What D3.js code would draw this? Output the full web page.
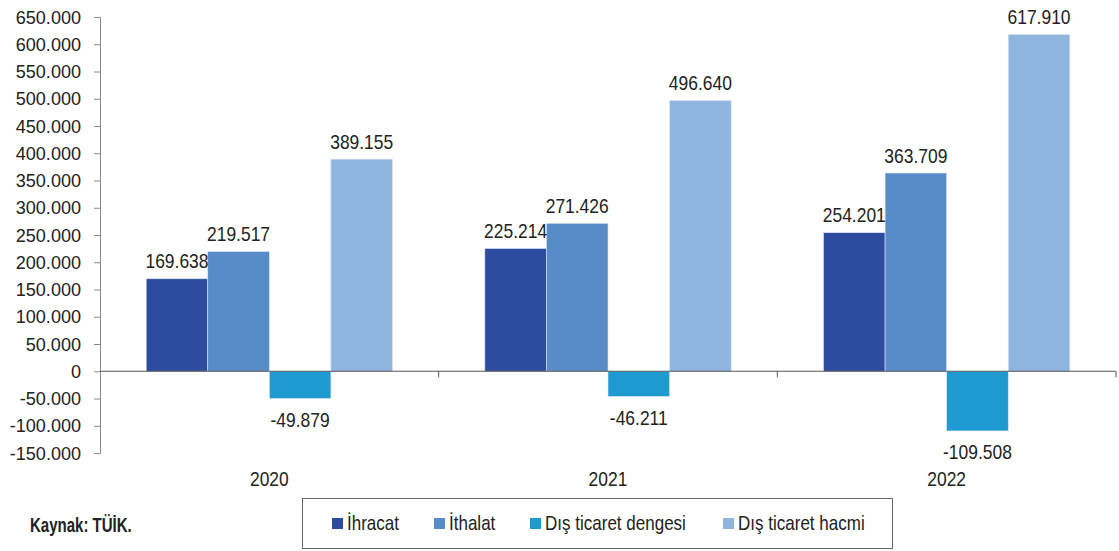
<!DOCTYPE html>
<html><head><meta charset="utf-8">
<script src="https://cdn.jsdelivr.net/npm/d3@7/dist/d3.min.js"></script>
<style>
body{margin:0;background:#fff;}
svg text{font-family:"Liberation Sans",Arial,sans-serif;}
</style></head>
<body><svg id="c" width="1119" height="551"></svg>
<script>
const years = ["2020","2021","2022"];
const seriesNames = ["İhracat","İthalat","Dış ticaret dengesi","Dış ticaret hacmi"];
const ihracat = [169.638,225.214,254.201];
const ithalat = [219.517,271.426,363.709];
const denge = [-49.879,-46.211,-109.508];
const hacim = [389.155,496.640,617.910];
const yTicks = [650,600,550,500,450,400,350,300,250,200,150,100,50,0,-50,-100,-150];
const colors = ["#2e4c9f","#578cc8","#1f9ad0","#8fb4de"];
const seriesData = [ihracat,ithalat,denge,hacim];

(function(){
const svg = d3.select("#c");
const mL=100,mR=1116,mT=17,mB=453;
const y = d3.scaleLinear().domain([-150,650]).range([mB,mT]);
const x0 = d3.scaleBand().domain(years).range([mL,mR]).padding(0);
const x1 = d3.scaleBand().domain(seriesNames).range([0,x0.bandwidth()]).paddingInner(0).paddingOuter(0.75);
const fmt = v => (v<0?"-":"")+d3.format(".3f")(Math.abs(v));
const fmtTick = v => v===0 ? "0" : (v<0?"-":"")+Math.abs(v)+".000";
// horizontally condense text (the source uses a condensed face)
function condense(sel, f){
  sel.each(function(){
    const L = this.getComputedTextLength();
    d3.select(this).attr("textLength", L*f).attr("lengthAdjust","spacingAndGlyphs");
  });
}

// y axis
const yAxis = d3.axisLeft(y).tickValues(yTicks).tickSize(6).tickPadding(13).tickFormat(fmtTick);
const ga = svg.append("g").attr("transform",`translate(${mL},0)`).call(yAxis);
ga.select(".domain").attr("stroke","#8a8a8a");
ga.selectAll(".tick line").attr("stroke","#8a8a8a");
ga.selectAll("text").attr("font-size",19).attr("fill","#222")
  .attr("font-family",'"Liberation Sans",Arial,sans-serif').call(condense,0.95);

// bars
const rows = years.map((yr,i)=>({yr, vals: seriesNames.map((n,j)=>({n, v: seriesData[j][i], c: colors[j]}))}));
const g = svg.append("g");
const grp = g.selectAll("g").data(rows).join("g").attr("transform",d=>`translate(${x0(d.yr)},0)`);
grp.selectAll("rect").data(d=>d.vals).join("rect")
  .attr("x",d=>x1(d.n)).attr("width",x1.bandwidth())
  .attr("y",d=>y(Math.max(0,d.v))).attr("height",d=>Math.abs(y(d.v)-y(0)))
  .attr("fill",d=>d.c).attr("stroke","#dbe6f3").attr("stroke-width",0.6);
grp.selectAll("text.val").data(d=>d.vals).join("text").attr("class","val")
  .attr("x",d=>x1(d.n)+x1.bandwidth()/2)
  .attr("y",d=>d.v>=0 ? y(d.v)-10.5 : y(d.v)+28.5)
  .attr("text-anchor","middle").attr("font-size",21).attr("fill","#222")
  .text(d=>fmt(d.v)).call(condense,0.83);

// x axis at zero
svg.append("line").attr("x1",mL).attr("x2",mR).attr("y1",y(0)).attr("y2",y(0)).attr("stroke","#555").attr("stroke-width",1);
const bounds = years.map(yr=>x0(yr)).slice(1).concat([mR]);
svg.selectAll("line.xt").data(bounds).join("line").attr("class","xt")
  .attr("x1",d=>d).attr("x2",d=>d).attr("y1",y(0)).attr("y2",y(0)+6).attr("stroke","#555");
svg.selectAll("text.yr").data(years).join("text").attr("class","yr")
  .attr("x",d=>x0(d)+x0.bandwidth()/2).attr("y",486)
  .attr("text-anchor","middle").attr("font-size",21).attr("fill","#222").text(d=>d).call(condense,0.83);

// source
svg.append("text").attr("x",30).attr("y",532).attr("font-size",19.5).attr("font-weight","bold").attr("fill","#222")
  .text("Kaynak: TÜİK.").call(condense,0.77);

// legend
svg.append("rect").attr("x",302.5).attr("y",498.5).attr("width",590).attr("height",50).attr("fill","#fff").attr("stroke","#666");
const legX = [332,434,530,723];
const lg = svg.selectAll("g.leg").data(seriesNames).join("g").attr("class","leg").attr("transform",(d,i)=>`translate(${legX[i]},0)`);
lg.append("rect").attr("x",0).attr("y",518).attr("width",11).attr("height",11).attr("fill",(d,i)=>colors[i]);
lg.append("text").attr("x",15).attr("y",530).attr("font-size",21).attr("fill","#222").text(d=>d).call(condense,0.81);
})();
</script></body></html>
